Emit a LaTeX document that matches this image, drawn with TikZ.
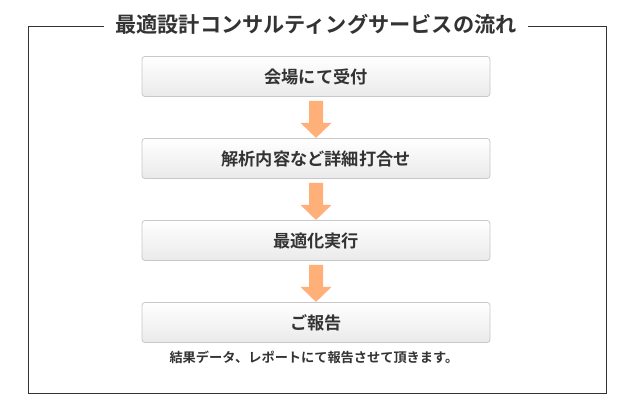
\documentclass[tikz,border=0pt]{standalone}
\usepackage{fontspec}
\usetikzlibrary{calc}
\setmainfont{Noto Sans CJK JP}
\newfontfamily\jpb{Noto Sans CJK JP Bold}
\definecolor{frame}{HTML}{333333}
\definecolor{boxline}{HTML}{C8C8C8}
\definecolor{boxbot}{HTML}{EAEAEA}
\definecolor{arr}{HTML}{FFAF78}
\definecolor{txt}{HTML}{333333}
\tikzset{
  stepbox/.style={draw=boxline, line width=0.8pt, rounded corners=3pt,
    top color=white, bottom color=boxbot, minimum width=348pt, minimum height=40pt,
    inner sep=0pt, font=\jpb\fontsize{17.2pt}{18pt}\selectfont, text=txt},
  flowarrow/.style={fill=arr, draw=none}
}
\begin{document}
\begin{tikzpicture}[x=1pt,y=-1pt]
\useasboundingbox (0,0) rectangle (635,403);
\fill[white] (0,0) rectangle (635,403);
\draw[frame, line width=0.8pt] (104,26) -- (28,26) -- (28,393) -- (606,393) -- (606,26) -- (528,26);
\node[font=\jpb\fontsize{21.2pt}{22pt}\selectfont, text=txt] (title) at (316,24) {最適設計コンサルティングサービスの流れ};
\node[stepbox] (s1) at (316,76.5) {会場にて受付};
\node[stepbox] (s2) at (316,158.5) {解析内容など詳細打合せ};
\node[stepbox] (s3) at (316,240.5) {最適化実行};
\node[stepbox] (s4) at (316,322.5) {ご報告};
\foreach \a/\b in {s1/s2, s2/s3, s3/s4}{
  \path (\a.south) ++(0,4) coordinate (t);
  \fill[flowarrow] ($(t)+(-7,0)$) -- ($(t)+(7,0)$) -- ($(t)+(7,22)$) -- ($(t)+(15.5,22)$) -- ($(t)+(0,37)$) -- ($(t)+(-15.5,22)$) -- ($(t)+(-7,22)$) -- cycle;
}
\node[font=\jpb\fontsize{13.2pt}{14pt}\selectfont, text=txt, anchor=west] (note) at (166,357) {結果データ、レポートにて報告させて頂きます。};
\end{tikzpicture}
\end{document}
